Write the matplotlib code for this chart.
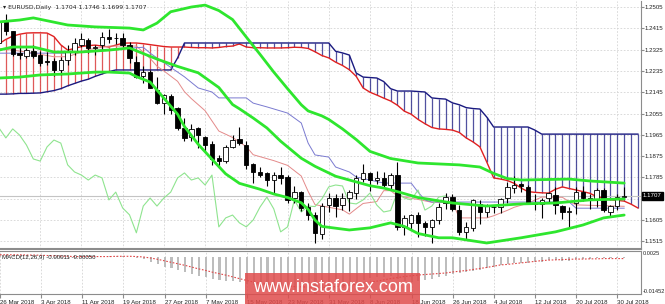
import numpy as np
import matplotlib.pyplot as plt
from matplotlib.patches import Rectangle
from matplotlib.transforms import blended_transform_factory

# EURUSD daily, 26 Mar 2018 .. 31 Jul 2018 (one entry per bar)
opens = [1.2351, 1.2447, 1.2403, 1.2312, 1.2298, 1.2319, 1.2302, 1.2279, 1.2277, 1.2239,
         1.2281, 1.2315, 1.2345, 1.2366, 1.2330, 1.2345, 1.2378, 1.2376, 1.2374, 1.2345,
         1.2273, 1.2215, 1.2230, 1.2154, 1.2099, 1.2128, 1.2078, 1.1994, 1.1956, 1.1994,
         1.1956, 1.1926, 1.1867, 1.1854, 1.1914, 1.1947, 1.1922, 1.1842, 1.1808, 1.1804,
         1.1774, 1.1795, 1.1787, 1.1698, 1.1723, 1.1660, 1.1627, 1.1547, 1.1668, 1.1698,
         1.1668, 1.1698, 1.1719, 1.1779, 1.1804, 1.1776, 1.1783, 1.1753, 1.1795, 1.1576,
         1.1593, 1.1626, 1.1593, 1.1576, 1.1605, 1.1677, 1.1702, 1.1647, 1.1555, 1.1572,
         1.1673, 1.1639, 1.1658, 1.1660, 1.1698, 1.1740, 1.1757, 1.1745, 1.1677, 1.1673,
         1.1698, 1.1711, 1.1664, 1.1641, 1.1677, 1.1723, 1.1698, 1.1690, 1.1732, 1.1639,
         1.1664, 1.1704]
highs = [1.2475, 1.2476, 1.2405, 1.2342, 1.2330, 1.2343, 1.2320, 1.2315, 1.2290, 1.2292,
         1.2343, 1.2374, 1.2396, 1.2373, 1.2345, 1.2400, 1.2414, 1.2396, 1.2397, 1.2356,
         1.2299, 1.2254, 1.2239, 1.2209, 1.2139, 1.2138, 1.2084, 1.2036, 1.2009, 1.1999,
         1.1961, 1.1939, 1.1880, 1.1924, 1.1965, 1.1996, 1.1937, 1.1844, 1.1831, 1.1807,
         1.1807, 1.1830, 1.1795, 1.1750, 1.1726, 1.1677, 1.1640, 1.1676, 1.1718, 1.1715,
         1.1719, 1.1730, 1.1796, 1.1840, 1.1806, 1.1812, 1.1808, 1.1805, 1.1852, 1.1627,
         1.1632, 1.1640, 1.1599, 1.1610, 1.1676, 1.1720, 1.1717, 1.1670, 1.1596, 1.1692,
         1.1690, 1.1673, 1.1670, 1.1697, 1.1765, 1.1791, 1.1763, 1.1752, 1.1713, 1.1697,
         1.1722, 1.1745, 1.1668, 1.1660, 1.1745, 1.1750, 1.1716, 1.1739, 1.1739, 1.1667,
         1.1717, 1.1746]
lows = [1.2340, 1.2387, 1.2297, 1.2287, 1.2290, 1.2290, 1.2255, 1.2258, 1.2215, 1.2216,
        1.2258, 1.2302, 1.2337, 1.2312, 1.2301, 1.2322, 1.2352, 1.2347, 1.2334, 1.2268,
        1.2203, 1.2183, 1.2162, 1.2096, 1.2055, 1.2055, 1.1984, 1.1937, 1.1939, 1.1910,
        1.1895, 1.1838, 1.1823, 1.1848, 1.1910, 1.1922, 1.1820, 1.1763, 1.1786, 1.1750,
        1.1716, 1.1758, 1.1676, 1.1676, 1.1645, 1.1607, 1.1510, 1.1526, 1.1638, 1.1618,
        1.1649, 1.1642, 1.1695, 1.1765, 1.1727, 1.1758, 1.1746, 1.1732, 1.1562, 1.1541,
        1.1563, 1.1532, 1.1538, 1.1508, 1.1590, 1.1652, 1.1643, 1.1540, 1.1526, 1.1560,
        1.1590, 1.1616, 1.1635, 1.1633, 1.1678, 1.1720, 1.1722, 1.1677, 1.1649, 1.1613,
        1.1681, 1.1632, 1.1611, 1.1575, 1.1630, 1.1685, 1.1650, 1.1662, 1.1637, 1.1617,
        1.1648, 1.1699]
closes = [1.2447, 1.2403, 1.2306, 1.2304, 1.2323, 1.2300, 1.2268, 1.2274, 1.2239, 1.2281,
          1.2315, 1.2353, 1.2370, 1.2332, 1.2336, 1.2378, 1.2370, 1.2372, 1.2345, 1.2290,
          1.2209, 1.2232, 1.2163, 1.2099, 1.2133, 1.2070, 1.1994, 1.1952, 1.1990, 1.1964,
          1.1922, 1.1863, 1.1854, 1.1914, 1.1943, 1.1930, 1.1838, 1.1808, 1.1795, 1.1774,
          1.1795, 1.1783, 1.1690, 1.1723, 1.1656, 1.1627, 1.1551, 1.1664, 1.1698, 1.1664,
          1.1698, 1.1723, 1.1783, 1.1804, 1.1774, 1.1783, 1.1753, 1.1795, 1.1576, 1.1614,
          1.1626, 1.1593, 1.1576, 1.1605, 1.1660, 1.1702, 1.1652, 1.1555, 1.1576, 1.1690,
          1.1639, 1.1664, 1.1662, 1.1694, 1.1745, 1.1753, 1.1749, 1.1677, 1.1673, 1.1690,
          1.1719, 1.1668, 1.1639, 1.1645, 1.1723, 1.1698, 1.1690, 1.1732, 1.1647, 1.1664,
          1.1702, 1.1707]

# Ichimoku cloud, one value per bar (runs 2 bars past the last candle)
span_a = [1.2350, 1.2368, 1.2382, 1.2390, 1.2395, 1.2396, 1.2396, 1.2395, 1.2380, 1.2345,
          1.2323, 1.2330, 1.2338, 1.2342, 1.2344, 1.2340, 1.2336, 1.2344, 1.2352, 1.2353,
          1.2353, 1.2350, 1.2346, 1.2342, 1.2338, 1.2336, 1.2336, 1.2336, 1.2334, 1.2333,
          1.2333, 1.2332, 1.2334, 1.2338, 1.2340, 1.2349, 1.2336, 1.2333, 1.2333, 1.2332,
          1.2332, 1.2332, 1.2333, 1.2335, 1.2334, 1.2330, 1.2316, 1.2300, 1.2290, 1.2272,
          1.2258, 1.2240, 1.2212, 1.2163, 1.2145, 1.2133, 1.2120, 1.2108, 1.2090, 1.2065,
          1.2052, 1.2030, 1.2012, 1.1996, 1.1990, 1.1988, 1.1985, 1.1975, 1.1952, 1.1935,
          1.1914, 1.1850, 1.1783, 1.1778, 1.1772, 1.1760, 1.1740, 1.1725, 1.1722, 1.1720,
          1.1719, 1.1735, 1.1745, 1.1738, 1.1732, 1.1725, 1.1718, 1.1704, 1.1698, 1.1691,
          1.1688, 1.1685, 1.1672, 1.1656]
span_b = ([1.2137, 1.2137, 1.2138, 1.2140, 1.2140, 1.2141, 1.2142, 1.2147, 1.2152, 1.2160,
           1.2172, 1.2182, 1.2192, 1.2200, 1.2212, 1.2222, 1.2232, 1.2239]
          + [1.2239] * 8 + [1.2290] + [1.2353] * 22
          + [1.2318, 1.2311, 1.2302, 1.2226, 1.2209, 1.2207, 1.2205, 1.2190, 1.2160,
             1.2150, 1.2150, 1.2150, 1.2148, 1.2146, 1.2121, 1.2118, 1.2116, 1.2100,
             1.2092, 1.2080, 1.2076, 1.2074, 1.2040]
          + [1.1998] * 6 + [1.1985] + [1.1968] * 15)

# tenkan / kijun lines (bar, price)
tenkan_x = [0, 4, 8, 10, 13, 16, 20, 22, 23, 24, 26, 27, 28, 30, 31, 32, 34, 36, 37, 40,
            42, 44, 45, 46, 50, 51, 52, 53, 55, 56, 57, 58, 61, 63, 66, 67, 71, 72, 74, 75,
            77, 79, 82, 83, 84, 91]
tenkan = [1.2330, 1.2315, 1.2295, 1.2295, 1.2325, 1.2340, 1.2340, 1.2288, 1.2255, 1.2235,
          1.2191, 1.2147, 1.2118, 1.2067, 1.2024, 1.1981, 1.1954, 1.1915, 1.1881, 1.1856,
          1.1836, 1.1791, 1.1726, 1.1670, 1.1648, 1.1630, 1.1653, 1.1675, 1.1683, 1.1729,
          1.1729, 1.1707, 1.1692, 1.1680, 1.1680, 1.1614, 1.1614, 1.1623, 1.1646, 1.1659,
          1.1676, 1.1702, 1.1701, 1.1683, 1.1669, 1.1663]
kijun_x = [0, 10, 14, 21, 22, 24, 27, 29, 31, 32, 36, 37, 39, 42, 44, 45, 46, 48, 49, 51,
           52, 54, 56, 60, 61, 62, 63, 83, 84, 91]
kijun = [1.2310, 1.2310, 1.2322, 1.2335, 1.2310, 1.2270, 1.2210, 1.2163, 1.2146, 1.2121,
         1.2121, 1.2099, 1.2083, 1.2057, 1.2015, 1.1930, 1.1880, 1.1871, 1.1829, 1.1808,
         1.1787, 1.1774, 1.1761, 1.1761, 1.1723, 1.1690, 1.1681, 1.1681, 1.1655, 1.1655]
chikou_shift = 26

# bollinger bands (bar, price)
bb_up_x = [0, 3, 5, 10, 14, 19, 21, 23, 25, 28, 30, 32, 34, 36, 38, 40, 42, 44, 45, 47,
           48, 50, 52, 54, 57, 61, 67, 70, 72, 74, 76, 83, 86, 91]
bb_up = [1.2442, 1.2450, 1.2459, 1.2429, 1.2421, 1.2416, 1.2408, 1.2437, 1.2485, 1.2505,
         1.2513, 1.2490, 1.2452, 1.2378, 1.2305, 1.2230, 1.2160, 1.2092, 1.2066, 1.2045,
         1.2030, 1.1990, 1.1945, 1.1895, 1.1865, 1.1846, 1.1838, 1.1829, 1.1802, 1.1780,
         1.1774, 1.1778, 1.1770, 1.1761]
bb_mid_x = [0, 2, 5, 8, 12, 16, 19, 20, 23, 26, 29, 32, 34, 35, 37, 39, 41, 44, 46, 49,
            51, 54, 56, 58, 61, 66, 71, 76, 81, 86, 91]
bb_mid = [1.2323, 1.2336, 1.2336, 1.2315, 1.2315, 1.2323, 1.2332, 1.2320, 1.2285, 1.2254,
          1.2227, 1.2165, 1.2093, 1.2075, 1.2036, 1.1994, 1.1938, 1.1866, 1.1832, 1.1790,
          1.1774, 1.1750, 1.1740, 1.1725, 1.1700, 1.1677, 1.1664, 1.1673, 1.1677, 1.1690,
          1.1694]
bb_low_x = [0, 3, 6, 10, 14, 16, 19, 20, 22, 24, 26, 27, 29, 31, 33, 35, 38, 40, 42, 44,
            45, 46, 47, 51, 54, 57, 59, 61, 64, 66, 71, 76, 81, 85, 88, 91]
bb_low = [1.2205, 1.2209, 1.2218, 1.2222, 1.2230, 1.2230, 1.2226, 1.2211, 1.2188, 1.2120,
          1.2052, 1.2000, 1.1925, 1.1862, 1.1800, 1.1760, 1.1735, 1.1715, 1.1700, 1.1678,
          1.1650, 1.1605, 1.1578, 1.1563, 1.1572, 1.1593, 1.1578, 1.1548, 1.1530, 1.1530,
          1.1508, 1.1530, 1.1555, 1.1584, 1.1614, 1.1626]

# MACD(12,26,9): main as histogram, signal as dotted line
macd_main = [0.0012, 0.0012, 0.0010, 0.0008, 0.0006, 0.0004, 0.0002, 0.0000, -0.0002, -0.0003,
             -0.0003, -0.0002, 0.0000, 0.0001, 0.0002, 0.0003, 0.0004, 0.0005, 0.0005, 0.0002,
             -0.0003, -0.0007, -0.0019, -0.0027, -0.0038, -0.0042, -0.0050, -0.0058, -0.0066, -0.0074,
             -0.0078, -0.0086, -0.0090, -0.0094, -0.0094, -0.0098, -0.0106, -0.0110, -0.0114, -0.0118,
             -0.0118, -0.0122, -0.0126, -0.0130, -0.0133, -0.0137, -0.0145, -0.0140, -0.0133, -0.0127,
             -0.0120, -0.0112, -0.0100, -0.0090, -0.0082, -0.0078, -0.0076, -0.0075, -0.0085, -0.0092,
             -0.0096, -0.0094, -0.0090, -0.0084, -0.0078, -0.0072, -0.0066, -0.0062, -0.0058, -0.0054,
             -0.0050, -0.0044, -0.0038, -0.0030, -0.0026, -0.0024, -0.0022, -0.0022, -0.0020, -0.0018,
             -0.0012, -0.0012, -0.0013, -0.0013, -0.0008, -0.0006, -0.0005, -0.0002, -0.0004, -0.0004,
             -0.0002, -0.0001]
macd_signal = [0.0010, 0.0010, 0.0010, 0.0010, 0.0009, 0.0009, 0.0008, 0.0007, 0.0006, 0.0005,
               0.0004, 0.0003, 0.0003, 0.0003, 0.0003, 0.0003, 0.0003, 0.0004, 0.0004, 0.0004,
               0.0003, 0.0001, -0.0003, -0.0008, -0.0014, -0.0020, -0.0026, -0.0032, -0.0039, -0.0046,
               -0.0052, -0.0059, -0.0065, -0.0071, -0.0078, -0.0085, -0.0092, -0.0098, -0.0103, -0.0107,
               -0.0110, -0.0112, -0.0114, -0.0116, -0.0117, -0.0118, -0.0119, -0.0119, -0.0118, -0.0116,
               -0.0113, -0.0110, -0.0106, -0.0102, -0.0098, -0.0094, -0.0089, -0.0084, -0.0080, -0.0076,
               -0.0073, -0.0070, -0.0068, -0.0066, -0.0064, -0.0062, -0.0058, -0.0055, -0.0052, -0.0048,
               -0.0044, -0.0040, -0.0035, -0.0030, -0.0028, -0.0025, -0.0022, -0.0019, -0.0016, -0.0013,
               -0.0011, -0.0010, -0.0009, -0.0008, -0.0007, -0.0007, -0.0006, -0.0006, -0.0005, -0.0005,
               -0.0005, -0.0005]

price_ticks = [1.2505, 1.2415, 1.2325, 1.2235, 1.2145, 1.2055, 1.1965, 1.1875, 1.1785,
               1.1695, 1.1605, 1.1515]
date_pos = [0, 6, 12, 18, 24, 30, 36, 42, 48, 54, 60, 66, 72, 78, 84, 90]
date_labels = ['26 Mar 2018', '3 Apr 2018', '11 Apr 2018', '19 Apr 2018', '27 Apr 2018',
               '7 May 2018', '15 May 2018', '23 May 2018', '31 May 2018', '8 Jun 2018',
               '18 Jun 2018', '26 Jun 2018', '4 Jul 2018', '12 Jul 2018', '20 Jul 2018',
               '30 Jul 2018']

W, H = 665, 304
fig = plt.figure(figsize=(W / 100, H / 100), dpi=100)
fig.patch.set_facecolor('white')
frame = '#8c8c8c'
small = 4.4
lab_font = 'Liberation Sans'

ax = fig.add_axes([0, 1 - 249 / H, 641 / W, 248 / H])
axm = fig.add_axes([0, 1 - 294 / H, 641 / W, 43 / H])
x_lim = (0.15, 93.45)

# --- main chart ---
ax.set_xlim(*x_lim)
ax.set_ylim(1.14826, 1.25304)
for p in price_ticks:
    ax.axhline(p, color='#d4d4d4', lw=0.6, ls=(0, (2, 2)), zorder=0)
for d in date_pos:
    ax.axvline(d, color='#d4d4d4', lw=0.6, ls=(0, (2, 2)), zorder=0)
    axm.axvline(d, color='#d4d4d4', lw=0.6, ls=(0, (2, 2)), zorder=0)

# cloud hatch
bars = np.arange(len(span_a))
a = np.array(span_a)
b = np.array(span_b)
cols = ['#d83030' if a[i] >= b[i] else '#262688' for i in bars]
ax.vlines(bars, np.minimum(a, b), np.maximum(a, b), colors=cols, lw=0.9, alpha=0.8, zorder=1)
ax.plot(bars, a, color='#e02020', lw=1.0, zorder=2)
ax.plot(bars, b, color='#1a1a80', lw=1.0, zorder=2)

# bid line
ax.axhline(closes[-1], color='#c4c4c4', lw=0.8, zorder=1)

# thin ichimoku lines
ax.plot(tenkan_x, tenkan, color='#e48a8a', lw=0.7, zorder=3)
ax.plot(kijun_x, kijun, color='#7a7ad0', lw=0.7, zorder=3)
ax.plot(np.arange(len(closes) - chikou_shift), closes[chikou_shift:],
        color='#8fe48f', lw=0.8, zorder=3)

# candles
for i in range(len(closes)):
    o, h, l, c = opens[i], highs[i], lows[i], closes[i]
    ax.vlines(i, l, h, color='black', lw=0.8, zorder=4)
    body = max(abs(c - o), 0.00012)
    fc = 'white' if c >= o else 'black'
    ax.add_patch(Rectangle((i - 0.32, min(o, c)), 0.64, body, fc=fc, ec='black',
                           lw=0.6, zorder=5))

# bollinger bands
for xs, ys in [(bb_up_x, bb_up), (bb_mid_x, bb_mid), (bb_low_x, bb_low)]:
    ax.plot(xs, ys, color='#2ee62e', lw=2.0, zorder=6, solid_capstyle='round')

ax.yaxis.tick_right()
ax.set_yticks(price_ticks)
ax.set_yticklabels([f'{p:.4f}' for p in price_ticks], family=lab_font)
ax.tick_params(axis='y', labelsize=small, length=2, pad=0.8, colors='#222222',
               color=frame)
ax.set_xticks([])
for s in ['left', 'top']:
    ax.spines[s].set_visible(False)
for s in ['right', 'bottom']:
    ax.spines[s].set_color(frame)
ax.spines['bottom'].set_linewidth(1.5)

# current price marker
tr = blended_transform_factory(ax.transAxes, ax.transData)
ax.text(1.003, closes[-1], f'{closes[-1]:.4f}', transform=tr, fontsize=small,
        family=lab_font, color='white', va='center', ha='left', zorder=10, clip_on=False,
        bbox=dict(boxstyle='square,pad=0.2', fc='black', ec='black'))

fig.text(3 / W, 1 - 8 / H, '\u25be EURUSD,Daily  1.1704 1.1746 1.1699 1.1707',
         fontsize=small, va='center', ha='left', color='#222222')

# --- MACD panel ---
axm.set_xlim(*x_lim)
axm.set_ylim(-0.01452, 0.0025)
axm.bar(np.arange(len(macd_main)), macd_main, width=0.3, color='#bdbdbd', zorder=2)
axm.plot(np.arange(len(macd_signal)), macd_signal, color='#e04848', lw=0.8,
         ls=(0, (1.5, 1.5)), zorder=3)
axm.text(0.003, 0.86, 'MACD(12,26,9) -0.00011 -0.00050', transform=axm.transAxes,
         fontsize=small, family=lab_font, va='center', ha='left', color='#222222')
axm.yaxis.tick_right()
axm.set_yticks([0.0025, -0.01452])
axm.set_yticklabels(['0.0025', '-0.01452'], family=lab_font)
axm.tick_params(axis='y', labelsize=small - 0.3, length=0, pad=1, colors='#222222')
axm.get_yticklabels()[0].set_va('top')
axm.get_yticklabels()[1].set_va('bottom')
axm.set_xticks(date_pos)
axm.set_xticklabels(date_labels, ha='left', family=lab_font)
axm.tick_params(axis='x', labelsize=small, length=3, pad=1, colors='#222222', color=frame)
axm.spines['left'].set_visible(False)
for s in ['right', 'bottom', 'top']:
    axm.spines[s].set_color(frame)

# watermark
fig.patches.append(Rectangle((245 / W, 0), 175 / W, 31 / H, transform=fig.transFigure,
                             fc='#e04c4c', ec='none', alpha=0.85, zorder=20))
fig.text(333 / W, 1 - 288 / H, 'www.instaforex.com', fontsize=13, color='white',
         family='Liberation Sans', ha='center', va='center', zorder=21)

fig.savefig('out.png', dpi=100, facecolor='white')
